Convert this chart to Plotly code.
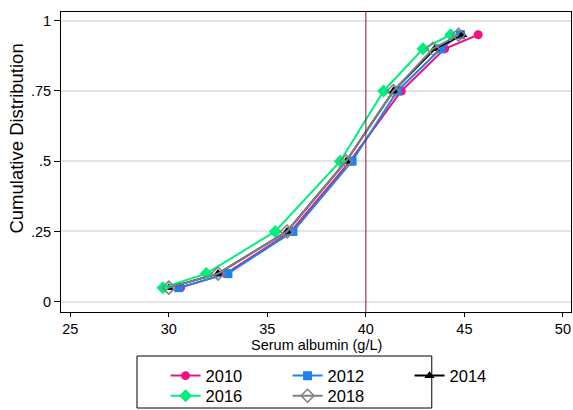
import plotly.graph_objects as go

# Cumulative proportion at each quantile
cum_prob = [0.05, 0.10, 0.25, 0.50, 0.75, 0.90, 0.95]

# Serum albumin (g/L) at those quantiles, by year
alb_2010 = [30.6, 32.9, 36.2, 39.2, 41.8, 44.0, 45.7]
alb_2012 = [30.5, 33.0, 36.3, 39.3, 41.6, 43.8, 44.8]
alb_2014 = [30.0, 32.5, 36.0, 39.0, 41.4, 43.5, 44.9]
alb_2016 = [29.7, 31.9, 35.4, 38.7, 40.9, 42.9, 44.3]
alb_2018 = [30.0, 32.5, 36.0, 39.0, 41.4, 43.4, 44.7]

x_ticks = [25, 30, 35, 40, 45, 50]
y_ticks = [0, 0.25, 0.5, 0.75, 1]
y_ticktext = ["0", ".25", ".5", ".75", "1"]
ref_line = 40

FONT = "Liberation Sans, Arial, Helvetica, sans-serif"

series = [
    ("2010", alb_2010, "#F0147F", "circle", 9, "legend"),
    ("2012", alb_2012, "#1E82F0", "square", 9, "legend"),
    ("2014", alb_2014, "#000000", "triangle-up", 9, "legend"),
    ("2016", alb_2016, "#00EE80", "diamond", 10, "legend2"),
    ("2018", alb_2018, "#808080", "diamond-open", 10, "legend2"),
]

fig = go.Figure()
for name, vals, color, symbol, size, leg in series:
    fig.add_trace(go.Scatter(
        x=vals, y=cum_prob, name=name, mode="lines+markers",
        line=dict(color=color, width=2),
        marker=dict(symbol=symbol, size=size, color=color,
                    line=dict(color=color, width=1.5 if "open" in symbol else 0)),
        legend=leg,
    ))

# vertical reference line
fig.add_vline(x=ref_line, line=dict(color="#9E0B35", width=1), layer="above")

# border around the two-row legend
fig.add_shape(type="rect", xref="paper", yref="paper",
              x0=0.149, x1=0.727, y0=-0.32, y1=-0.1467,
              line=dict(color="#000000", width=1), fillcolor="rgba(0,0,0,0)")

# axis titles
fig.add_annotation(text="Cumulative Distribution", textangle=-90,
                   xref="paper", yref="paper", x=-0.087, y=0.577,
                   xanchor="center", yanchor="middle", showarrow=False,
                   font=dict(family=FONT, size=18.5, color="#000000"))
fig.add_annotation(text="Serum albumin (g/L)",
                   xref="paper", yref="paper", x=0.5, y=-0.109,
                   xanchor="center", yanchor="middle", showarrow=False,
                   font=dict(family=FONT, size=14.5, color="#000000"))

legend_common = dict(
    orientation="h", xanchor="left", yanchor="middle",
    bgcolor="rgba(0,0,0,0)", borderwidth=0,
    font=dict(family=FONT, size=16.5, color="#000000"),
    entrywidth=77, itemwidth=30, tracegroupgap=0,
)

fig.update_layout(
    width=573, height=410,
    margin=dict(l=61, r=2, t=12, b=98, autoexpand=False),
    paper_bgcolor="white", plot_bgcolor="white",
    font=dict(family=FONT, size=14, color="#000000"),
    showlegend=True,
    legend=dict(x=0.205, y=-0.213, **legend_common),
    legend2=dict(x=0.205, y=-0.28, **legend_common),
    xaxis=dict(
        range=[24.53, 50.41], tickvals=x_ticks, showgrid=False, zeroline=False,
        ticks="outside", ticklen=4, tickwidth=1, tickcolor="#000000",
        showline=True, linecolor="#000000", linewidth=1, mirror=True,
        tickfont=dict(size=14.5),
    ),
    yaxis=dict(
        range=[-0.0367, 1.031], tickvals=y_ticks, ticktext=y_ticktext,
        showgrid=True, gridcolor="#E4E4E4", gridwidth=2, zeroline=False,
        ticks="outside", ticklen=6, tickwidth=1, tickcolor="#000000",
        showline=True, linecolor="#000000", linewidth=1, mirror=True,
        tickfont=dict(size=14.5),
    ),
)

fig.write_html("out.html")
